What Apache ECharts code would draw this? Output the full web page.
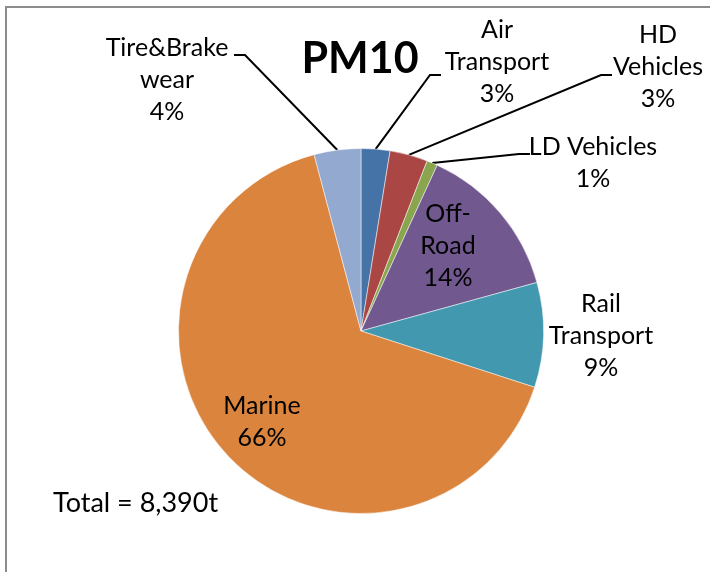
<!DOCTYPE html>
<html>
<head>
<meta charset="utf-8">
<script src="https://cdn.jsdelivr.net/npm/echarts@6/dist/echarts.min.js"></script>
<style>
  html, body { margin: 0; padding: 0; background: #fff; }
  #pieChart { width: 710px; height: 572px; }
</style>
</head>
<body>
<div id="pieChart"></div>
<script>
// PM10 emissions by source, tonnes (total 8,390t)
var categories = ['Air\nTransport', 'HD\nVehicles', 'LD Vehicles', 'Off-\nRoad', 'Rail\nTransport', 'Marine', 'Tire&Brake\nwear'];
var values = [214, 281, 80, 1163, 778, 5527, 347];
var colors = ['#4572A7', '#AA4643', '#89A54E', '#71588F', '#4198AF', '#DB843D', '#93A9CF'];
var insideLabels = ['Off-\nRoad', 'Marine'];
var noLineLabels = ['Rail\nTransport'];

// centre of each label block
var labelPos = [[497, 62], [658, 67], [593, 163], [448, 246], [601, 336], [262, 422], [167, 80]];
// where the leader line meets the label, and which way its short tail runs
var lineEnd = [[441, 75, -1], [612, 75, -1], [530, 154, -1], null, null, null, [234, 55, 1]];

var pieChart = echarts.init(document.getElementById('pieChart'));

var pieData = categories.map(function (name, i) {
    var inside = insideLabels.indexOf(name) >= 0;
    return {
        name: name,
        value: values[i],
        itemStyle: { color: colors[i] },
        label: { position: inside ? 'inside' : 'outside' },
        labelLine: { show: !inside && noLineLabels.indexOf(name) < 0 }
    };
});

var option = {
    animation: false,
    backgroundColor: '#fff',
    textStyle: { fontFamily: 'Lato' },
    graphic: [
        {
            type: 'polyline',
            shape: { points: [[6, 580], [6, 7], [720, 7]] },
            style: { stroke: '#8c8c8c', lineWidth: 2, fill: null }
        },
        {
            type: 'text',
            x: 360,
            y: 59,
            style: { text: 'PM10', font: 'bold 43px Lato', fill: '#000', align: 'center', verticalAlign: 'middle' }
        },
        {
            type: 'text',
            x: 53,
            y: 503,
            style: { text: 'Total = 8,390t', font: '27px Lato', fill: '#000', align: 'left', verticalAlign: 'middle' }
        }
    ],
    series: [
        {
            name: 'PM10',
            type: 'pie',
            center: [361, 331],
            radius: 182.5,
            startAngle: 90,
            clockwise: true,
            avoidLabelOverlap: false,
            itemStyle: { borderColor: '#fff', borderWidth: 0.5 },
            label: {
                show: true,
                color: '#000',
                fontSize: 25,
                lineHeight: 32,
                fontFamily: 'Lato',
                align: 'center',
                formatter: function (p) {
                    return p.name + '\n' + Math.round(p.percent) + '%';
                }
            },
            labelLine: {
                lineStyle: { color: '#000', width: 2 },
                length: 20,
                length2: 10
            },
            labelLayout: function (p) {
                var pos = labelPos[p.dataIndex];
                var out = { x: pos[0], y: pos[1], align: 'center', verticalAlign: 'middle' };
                var end = lineEnd[p.dataIndex];
                if (end && p.labelLinePoints) {
                    var start = p.labelLinePoints[0];
                    out.labelLinePoints = [start, [end[0] + end[2] * 11, end[1]], [end[0], end[1]]];
                }
                return out;
            },
            emphasis: { disabled: true },
            data: pieData
        }
    ]
};

pieChart.setOption(option);
</script>
</body>
</html>
